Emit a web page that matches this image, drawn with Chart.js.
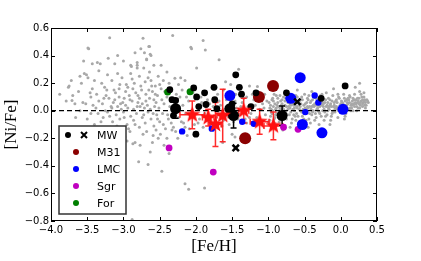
<!DOCTYPE html>
<html>
<head>
<meta charset="utf-8">
<script src="https://cdn.jsdelivr.net/npm/chart.js@4.4.1/dist/chart.umd.min.js"></script>
<style>
  html, body { margin: 0; padding: 0; background: #fff; }
  #wrap { width: 421px; height: 261px; }
</style>
</head>
<body>
<div id="wrap"><canvas id="c" width="421" height="261"></canvas></div>
<script>
// axis ticks
const xTicks = [-4.0, -3.5, -3.0, -2.5, -2.0, -1.5, -1.0, -0.5, 0.0, 0.5];
const yTicks = [-0.8, -0.6, -0.4, -0.2, 0.0, 0.2, 0.4, 0.6];

// literature field stars [Fe/H, Ni/Fe] (grey)
const fieldStars = [
  [-3.19,0.53],[-2.73,0.525],[-3.48,0.45],[-2.76,0.45],[-2.65,0.465],[-3.08,0.40],[-3.21,0.38],[-2.63,0.41],
  [-2.68,0.375],[-3.43,0.34],[-3.36,0.35],[-3.32,0.34],[-3.12,0.34],[-2.81,0.35],[-2.90,0.33],[-3.34,0.29],
  [-3.54,0.27],[-3.49,0.24],[-3.22,0.26],[-3.08,0.27],[-3.02,0.24],[-2.90,0.27],[-2.81,0.31],[-2.72,0.31],
  [-2.64,0.28],[-3.75,0.18],[-3.43,0.16],[-3.26,0.17],[-3.13,0.15],[-2.94,0.17],[-2.85,0.20],[-2.76,0.18],
  [-2.62,0.22],[-3.70,0.11],[-3.79,0.07],[-3.56,0.06],[-3.52,0.05],[-3.45,0.10],[-3.34,0.07],[-3.29,0.05],
  [-3.24,0.11],[-3.20,0.09],[-3.11,0.13],[-3.06,0.10],[-3.01,0.06],[-2.97,0.04],[-2.92,0.11],[-2.88,0.07],
  [-2.83,0.13],[-2.78,0.09],[-2.74,0.05],[-2.69,0.12],[-2.64,0.09],[-2.60,0.14],[-2.55,0.06],[-2.53,0.11],
  [-3.17,0.03],[-3.08,0.03],[-2.81,0.03],[-2.67,0.04],[-2.57,0.03],
  [-2.32,0.545],[-2.64,0.465],[-2.71,0.42],[-2.62,0.40],[-2.68,0.37],[-2.48,0.33],[-2.81,0.33],[-2.89,0.32],
  [-2.07,0.46],[-1.87,0.44],[-1.99,0.31],[-1.68,0.37],[-2.45,0.22],[-2.29,0.235],[-2.24,0.19],
  [-1.90,0.51],[-2.06,0.45],[-1.41,0.30],[-1.59,0.21],[-2.15,0.22],[-2.21,0.24],[-1.52,0.19],[-1.26,0.18],[-1.15,0.175],
  [-2.84,-0.23],[-2.77,-0.25],[-2.63,-0.30],[-2.79,-0.37],[-2.66,-0.39],[-2.47,-0.44],[-2.37,-0.31],[-2.15,-0.53],
  [-2.10,-0.57],[-1.88,-0.56],[-2.88,-0.79],[-2.98,-0.19],[-2.91,-0.15],[-2.73,-0.17],[-2.59,-0.18],[-2.49,-0.17],
  [-2.40,-0.20],[-2.87,-0.24],[-2.31,-0.12],[-1.50,-0.17],[-1.46,-0.19],[-1.30,-0.09],[-1.63,-0.23],
  [-3.76,0.17],[-3.51,0.26],[-3.71,0.075],[-3.49,0.455],
  [-3.35,-0.02],[-3.28,-0.05],[-3.22,-0.01],[-3.15,-0.08],[-3.10,-0.03],[-3.05,-0.06],[-3.00,-0.01],[-2.95,-0.10],
  [-2.90,-0.04],[-2.86,-0.07],[-2.82,-0.02],[-2.78,-0.12],[-2.74,-0.05],[-2.70,-0.09],[-2.66,-0.01],[-2.62,-0.06],
  [-2.58,-0.11],[-2.54,-0.03],[-2.50,-0.08],[-2.46,-0.02],[-2.42,-0.13],[-2.38,-0.06],[-2.34,-0.09],[-3.40,-0.10],
  [-3.30,-0.14],[-3.18,-0.12],[-3.02,-0.16],[-2.93,-0.13],[-2.68,-0.15],[-2.55,-0.14],[-3.50,-0.06],[-3.60,0.00],[-3.45,-0.02],
  [-3.38,0.02],[-3.25,0.00],[-3.14,0.06],[-3.03,0.01],[-2.99,0.09],[-2.86,0.01],[-2.80,0.06],[-2.71,0.02],
  [-2.65,0.15],[-2.58,0.08],[-2.51,0.02],[-2.48,0.16],[-2.44,0.05],[-2.40,0.10],[-2.36,0.03],[-2.30,0.06],
  [-2.26,0.00],[-2.22,0.10],[-2.18,0.04],[-2.14,-0.02],[-2.10,0.07],[-2.06,0.00],[-3.46,0.13],[-3.30,0.20],
  [-3.16,0.22],[-3.05,0.19],[-2.97,0.14],[-2.88,0.23],[-2.78,0.25],[-2.70,0.21],[-2.56,0.18],[-2.52,0.25],
  [-2.40,0.28],[-3.62,0.14],[-3.58,0.20],[-3.67,0.05],[-3.88,0.12],[-3.55,0.36],[-3.00,0.36],[-2.84,0.42],[-2.58,0.33],
  [-2.28,-0.15],[-2.20,-0.08],[-2.15,-0.12],[-2.05,-0.05],[-2.02,-0.10],[-2.25,-0.20],[-2.12,-0.18],
  [-3.42,0.04],[-3.37,0.12],[-3.31,-0.08],[-3.27,0.09],[-3.23,0.15],[-3.19,-0.04],[-3.16,0.02],[-3.12,0.08],
  [-3.09,-0.11],[-3.06,0.16],[-3.04,0.05],[-2.99,-0.05],[-2.96,0.19],[-2.94,0.02],[-2.91,0.08],[-2.87,0.16],
  [-2.84,-0.10],[-2.80,0.11],[-2.77,0.03],[-2.75,0.15],[-2.72,-0.03],[-2.69,0.07],[-2.66,0.24],[-2.63,0.01],
  [-2.61,0.18],[-2.59,-0.02],[-2.56,0.12],[-2.53,-0.06],[-2.50,0.19],[-2.47,0.08],[-2.45,-0.10],[-2.43,0.14],
  [-2.39,-0.03],[-2.37,0.20],[-2.33,-0.14],[-2.27,0.12],[-2.24,-0.05],[-2.19,0.15],[-2.17,-0.09],[-2.13,0.10],
  [-2.09,-0.13],[-2.04,0.13],
  [-3.60,0.25],[-3.66,-0.05],[-3.72,0.22],[-3.40,0.22],[-3.25,-0.18],[-3.10,-0.20],[-2.95,-0.22],[-2.60,-0.23],
  [-2.52,-0.20],[-2.44,-0.25],
  [-1.98,0.02],[-1.95,-0.06],[-1.92,0.06],[-1.88,-0.02],[-1.84,0.08],[-1.80,-0.09],[-1.76,0.03],[-1.72,-0.05],
  [-1.68,0.07],[-1.64,-0.11],[-1.60,0.01],[-1.56,-0.04],[-1.52,0.05],[-1.48,-0.08],[-1.44,0.02],[-1.40,-0.03],
  [-1.36,0.06],[-1.32,-0.06],[-1.28,0.03],[-1.24,-0.02],[-1.20,0.08],[-1.16,-0.05],[-1.12,0.01],[-1.08,0.05],
  [-1.04,-0.03],[-1.90,-0.12],[-1.70,0.12],[-1.55,0.10],[-1.45,0.12],[-1.30,0.10],[-1.22,0.12],[-1.10,0.09],
  [-1.86,0.14],[-1.62,0.15],[-1.05,0.12],[-1.00,-0.08],
  [-1.97,-0.09],[-1.93,0.10],[-1.89,0.04],[-1.85,-0.07],[-1.81,0.05],[-1.77,-0.12],[-1.73,0.09],[-1.69,-0.02],
  [-1.66,0.04],[-1.62,-0.07],[-1.58,0.08],[-1.54,-0.10],[-1.50,0.00],[-1.46,0.07],[-1.42,-0.06],[-1.38,0.03],
  [-1.34,0.09],[-1.26,-0.05],[-1.18,0.04],[-1.14,-0.08],[-1.06,0.02],[-1.02,0.07],
  [-0.98,0.02],[-0.97,-0.04],[-0.95,0.08],[-0.94,0.00],[-0.92,-0.06],[-0.91,0.05],[-0.89,0.11],[-0.88,-0.02],
  [-0.86,0.03],[-0.85,-0.08],[-0.83,0.07],[-0.82,0.01],[-0.80,-0.04],[-0.79,0.10],[-0.77,0.04],[-0.76,-0.01],
  [-0.74,0.13],[-0.73,0.06],[-0.71,-0.03],[-0.70,0.02],[-0.68,0.09],[-0.67,-0.06],[-0.65,0.04],[-0.64,0.00],
  [-0.62,0.11],[-0.61,-0.02],[-0.59,0.06],[-0.58,-0.09],[-0.56,0.03],[-0.55,0.08],[-0.53,-0.04],[-0.52,0.01],
  [-0.50,0.12],[-0.49,0.05],[-0.47,-0.01],[-0.46,0.09],[-0.44,-0.06],[-0.43,0.03],[-0.41,0.07],[-0.40,-0.03],
  [-0.38,0.00],[-0.37,0.10],[-0.35,0.04],[-0.34,-0.05],[-0.32,0.02],[-0.31,0.08],[-0.29,-0.02],[-0.28,0.05],
  [-0.26,0.12],[-0.25,0.00],[-0.23,-0.07],[-0.22,0.06],[-0.20,0.03],[-0.19,-0.03],[-0.17,0.09],[-0.16,0.01],
  [-0.14,0.05],[-0.13,-0.04],[-0.11,0.11],[-0.10,0.03],[-0.08,-0.01],[-0.07,0.07],[-0.05,0.02],[-0.04,-0.05],
  [-0.02,0.09],[-0.01,0.04],[0.01,0.00],[0.02,0.06],[0.04,0.12],[0.05,0.03],[0.07,-0.02],[0.08,0.08],
  [0.10,0.05],[0.11,0.01],[0.13,0.10],[0.14,0.04],[0.16,0.07],[0.17,0.00],[0.19,0.12],[0.20,0.06],
  [0.22,0.03],[0.23,0.09],[0.25,0.05],[0.26,0.14],[0.28,0.07],[0.30,0.03],[0.32,0.10],[0.34,0.06],
  [0.36,0.08],[0.26,0.20],[0.38,0.06],
  [-0.99,0.06],[-0.96,-0.01],[-0.93,0.03],[-0.90,-0.03],[-0.87,0.06],[-0.84,0.02],[-0.81,0.08],[-0.78,-0.05],
  [-0.75,0.03],[-0.72,0.08],[-0.69,-0.01],[-0.66,0.05],[-0.63,-0.04],[-0.60,0.02],[-0.57,0.07],[-0.54,-0.01],
  [-0.51,0.04],[-0.48,-0.07],[-0.45,0.02],[-0.42,0.06],[-0.39,-0.01],[-0.36,0.05],[-0.33,0.01],[-0.30,0.06],
  [-0.27,-0.04],[-0.24,0.03],[-0.21,0.08],[-0.18,0.00],[-0.15,0.04],[-0.12,-0.02],[-0.09,0.06],[-0.06,0.03],
  [-0.03,0.00],[0.00,0.05],[0.03,0.02],[0.06,0.07],[0.09,0.02],[0.12,0.06],[0.15,0.02],[0.18,0.05],
  [0.21,0.08],[0.24,0.02],[0.27,0.04],[0.30,0.08],[0.33,0.04],
  [-0.98,-0.07],[-0.94,0.09],[-0.90,0.01],[-0.86,-0.05],[-0.82,0.04],[-0.78,0.00],[-0.74,-0.03],[-0.70,0.05],
  [-0.66,0.01],[-0.62,-0.07],[-0.58,0.04],[-0.54,0.10],[-0.50,-0.02],[-0.46,0.03],[-0.42,-0.09],[-0.38,0.04],
  [-0.34,0.09],[-0.30,-0.01],[-0.26,0.04],[-0.22,-0.01],[-0.18,0.06],[-0.14,-0.07],[-0.10,0.00],[-0.06,0.08],
  [-0.02,0.01],[0.02,0.03],[0.06,-0.04],[0.10,0.09],[0.14,0.00],[0.18,0.08],[0.22,0.00],[0.26,0.02],
  [0.30,0.05],[0.34,0.02],
  [-0.97,0.04],[-0.95,-0.02],[-0.93,0.07],[-0.91,-0.05],[-0.89,0.02],[-0.87,0.09],[-0.85,0.00],[-0.83,-0.03],
  [-0.81,0.05],[-0.79,0.01],[-0.77,0.07],[-0.75,-0.06],[-0.73,0.01],[-0.71,0.10],[-0.69,0.04],[-0.67,0.07],
  [-0.65,-0.03],[-0.63,0.06],[-0.61,0.03],[-0.59,-0.04],[-0.57,0.01],[-0.55,0.05],[-0.53,0.08],[-0.51,-0.06],
  [-0.49,0.02],[-0.47,0.06],[-0.45,0.08],[-0.43,-0.02],[-0.41,0.01],[-0.39,0.08],[-0.37,0.03],[-0.35,-0.02],
  [-0.33,0.06],[-0.31,0.00],[-0.29,0.03],[-0.27,0.09],[-0.25,0.06],[-0.23,0.01],[-0.21,-0.04],[-0.19,0.04],
  [-0.17,0.02],[-0.15,0.08],[-0.13,0.03],[-0.11,-0.01],[-0.09,0.04],[-0.07,0.01],[-0.05,0.06],[-0.03,0.10],
  [-0.01,0.02],[0.01,0.07],[0.03,0.05],[0.05,0.09],[0.07,0.04],[0.09,0.06],[0.11,0.08],[0.13,0.02],
  [0.15,0.05],[0.17,0.09],[0.19,0.03],[0.21,0.05],[0.23,0.06],[0.25,0.09],[0.27,0.06],[0.29,0.10],
  [0.31,0.06],[0.33,0.08],[0.35,0.04],[0.37,0.07],
  [-0.96,0.01],[-0.88,0.04],[-0.80,0.02],[-0.72,0.03],[-0.64,0.02],[-0.56,0.00],[-0.48,0.01],[-0.40,0.03],
  [-0.32,0.04],[-0.24,0.05],[-0.16,0.03],[-0.08,0.02],[0.00,0.03],[0.08,0.04],[0.16,0.04],[0.24,0.07],[0.32,0.07],
  [-0.92,-0.09],[-0.76,0.09],[-0.68,-0.09],[-0.52,-0.09],[-0.36,-0.07],[-0.28,0.11],[-0.12,0.07],[-0.04,0.12],
  [0.04,-0.01],[0.12,0.11],[0.28,0.12],[-0.60,0.10],[-0.44,0.11],[-0.84,0.11],
  [-0.92,0.12],[-0.60,0.15],[-0.40,0.14],[-0.20,0.13],[-0.70,-0.12],[-0.45,-0.12],[-0.15,-0.10],[0.05,-0.06],
  [-0.80,-0.14],[-0.30,-0.10],[0.20,0.17],[-0.10,0.16],[0.32,0.13]
];

// Milky Way globular clusters
const mwFeH  = [-2.36, -2.33, -2.28, -2.31, -2.03, -1.99, -1.88, -1.96, -1.75, -1.86, -1.74, -1.71, -1.45, -1.40, -1.37, -1.17, -1.24, -2.00, -0.75, -0.27, 0.06, -1.50];
const mwNiFe = [0.152, 0.08, 0.075, -0.035, 0.165, 0.10, 0.13, 0.03, 0.17, 0.045, 0.08, 0.015, 0.26, 0.17, 0.12, 0.13, 0.03, -0.17, 0.13, 0.09, 0.18, 0.05];
const mwBigFeH  = [-2.28, -1.53, -1.48, -0.81];
const mwBigNiFe = [0.015, 0.015, -0.035, -0.035];
const mwBigErr  = [0.07, 0.0, 0.09, 0.07];
const mwCrossFeH  = [-1.45, -0.60];
const mwCrossNiFe = [-0.27, 0.065];

const m31FeH  = [-0.935, -1.13, -1.32];
const m31NiFe = [0.18, 0.10, -0.20];

const lmcBigFeH  = [-0.56, -1.53, -0.69, -0.53, -0.26, 0.03];
const lmcBigNiFe = [0.24, 0.11, 0.09, -0.10, -0.16, 0.01];
const lmcFeH  = [-2.19, -0.36, -0.31, -0.49, -1.36, -1.20, -1.78];
const lmcNiFe = [-0.15, 0.11, 0.06, -0.01, -0.08, -0.095, -0.13];

const sgrFeH  = [-2.37, -1.76, -0.79, -0.59];
const sgrNiFe = [-0.27, -0.445, -0.12, -0.135];

const forFeH  = [-2.39, -2.08];
const forNiFe = [0.135, 0.138];

// this work (red stars)
const starFeH     = [-2.05, -1.83, -1.73, -1.63, -1.34, -1.12, -0.93];
const starNiFe    = [-0.03, -0.05, -0.10, -0.035, 0.0, -0.08, -0.11];
const starFeHErr  = [0.17, 0.08, 0.08, 0.08, 0.07, 0.13, 0.13];
const starNiFeErr = [0.10, 0.06, 0.16, 0.19, 0.09, 0.09, 0.10];

const zip = (xs, ys) => xs.map((x, i) => ({ x: x, y: ys[i] }));

function makeStar(r, color) {
  const c = document.createElement('canvas');
  c.width = c.height = Math.ceil(2 * r + 2);
  const g = c.getContext('2d');
  const cx = c.width / 2, cy = c.height / 2;
  g.beginPath();
  for (let i = 0; i < 10; i++) {
    const rr = i % 2 === 0 ? r : r * 0.42;
    const a = -Math.PI / 2 + i * Math.PI / 5;
    g.lineTo(cx + rr * Math.cos(a), cy + rr * Math.sin(a));
  }
  g.closePath();
  g.fillStyle = color;
  g.fill();
  return c;
}

function fmt(v) {
  const t = Math.abs(v) < 1e-9 ? '0.0' : v.toFixed(1);
  return t.replace('-', '\u2212');
}

function drawErr(ctx, xs, ys, px, py, ex, ey, color, cap) {
  ctx.save();
  ctx.strokeStyle = color;
  ctx.lineWidth = 1.5;
  px.forEach((x, i) => {
    const cx = xs.getPixelForValue(x), cy = ys.getPixelForValue(py[i]);
    ctx.beginPath();
    if (ey[i]) {
      const t = ys.getPixelForValue(py[i] + ey[i]), b = ys.getPixelForValue(py[i] - ey[i]);
      ctx.moveTo(cx, t); ctx.lineTo(cx, b);
      ctx.moveTo(cx - cap, t); ctx.lineTo(cx + cap, t);
      ctx.moveTo(cx - cap, b); ctx.lineTo(cx + cap, b);
    }
    if (ex && ex[i]) {
      const l = xs.getPixelForValue(x - ex[i]), r = xs.getPixelForValue(x + ex[i]);
      ctx.moveTo(l, cy); ctx.lineTo(r, cy);
      ctx.moveTo(l, cy - cap); ctx.lineTo(l, cy + cap);
      ctx.moveTo(r, cy - cap); ctx.lineTo(r, cy + cap);
    }
    ctx.stroke();
  });
  ctx.restore();
}

const extras = {
  id: 'extras',
  afterDatasetDraw(chart, args) {
    if (chart.data.datasets[args.index].label !== 'field') return;
    const xs = chart.scales.x, ys = chart.scales.y, ctx = chart.ctx;
    drawErr(ctx, xs, ys, starFeH, starNiFe, starFeHErr, starNiFeErr, 'rgba(255,20,20,0.9)', 3);
    drawErr(ctx, xs, ys, mwBigFeH, mwBigNiFe, null, mwBigErr, '#000', 3);
  },
  afterDraw(chart) {
    const ctx = chart.ctx, a = chart.chartArea;
    const xs = chart.scales.x, ys = chart.scales.y;
    ctx.save();
    // frame and inward ticks
    ctx.strokeStyle = '#000';
    ctx.lineWidth = 1;
    ctx.strokeRect(a.left + 0.5, a.top + 0.5, a.right - a.left - 1, a.bottom - a.top - 1);
    ctx.beginPath();
    xTicks.forEach(v => {
      const p = Math.round(xs.getPixelForValue(v)) + 0.5;
      ctx.moveTo(p, a.bottom); ctx.lineTo(p, a.bottom - 4);
      ctx.moveTo(p, a.top); ctx.lineTo(p, a.top + 4);
    });
    yTicks.forEach(v => {
      const p = Math.round(ys.getPixelForValue(v)) + 0.5;
      ctx.moveTo(a.left, p); ctx.lineTo(a.left + 4, p);
      ctx.moveTo(a.right, p); ctx.lineTo(a.right - 4, p);
    });
    ctx.stroke();

    // legend box
    const bx = a.left + 8, bw = 67, bh = 88, by = a.bottom - 7 - bh;
    ctx.fillStyle = '#fff';
    ctx.fillRect(bx, by, bw, bh);
    ctx.strokeStyle = '#333';
    ctx.lineWidth = 1.5;
    ctx.strokeRect(bx, by, bw, bh);
    const rows = [
      { label: 'MW', color: '#000' },
      { label: 'M31', color: '#8b0000' },
      { label: 'LMC', color: '#0000ff' },
      { label: 'Sgr', color: '#c000c0' },
      { label: 'For', color: '#007f00' }
    ];
    ctx.font = '11px "DejaVu Sans"';
    ctx.textBaseline = 'middle';
    ctx.textAlign = 'left';
    rows.forEach((r, i) => {
      const yy = by + 9 + i * 17;
      ctx.fillStyle = r.color;
      ctx.beginPath();
      ctx.arc(i === 0 ? bx + 9 : bx + 17, yy, 3, 0, Math.PI * 2);
      ctx.fill();
      if (i === 0) {
        ctx.strokeStyle = '#000';
        ctx.lineWidth = 2;
        ctx.beginPath();
        ctx.moveTo(bx + 22, yy - 3); ctx.lineTo(bx + 28, yy + 3);
        ctx.moveTo(bx + 28, yy - 3); ctx.lineTo(bx + 22, yy + 3);
        ctx.stroke();
      }
      ctx.fillStyle = '#000';
      ctx.fillText(r.label, bx + 38, yy + 1);
    });
    ctx.restore();
  }
};

const starImg = makeStar(8.5, '#ff1010');

new Chart(document.getElementById('c'), {
  type: 'scatter',
  data: {
    datasets: [
      { label: 'this work', data: zip(starFeH, starNiFe), pointStyle: starImg, order: 0 },
      { label: 'MW big', data: zip(mwBigFeH, mwBigNiFe), backgroundColor: '#000', pointRadius: 5.5, borderWidth: 0, order: 1 },
      { label: 'MW', data: zip(mwFeH, mwNiFe), backgroundColor: '#000', pointRadius: 3.4, borderWidth: 0, order: 2 },
      { label: 'MW x', data: zip(mwCrossFeH, mwCrossNiFe), pointStyle: 'crossRot', pointRadius: 4.5, borderColor: '#000', borderWidth: 2.5, order: 2 },
      { label: 'M31', data: zip(m31FeH, m31NiFe), backgroundColor: '#8b0000', pointRadius: 6, borderWidth: 0, order: 3 },
      { label: 'LMC big', data: zip(lmcBigFeH, lmcBigNiFe), backgroundColor: '#0000ff', pointRadius: 5.5, borderWidth: 0, order: 4 },
      { label: 'LMC', data: zip(lmcFeH, lmcNiFe), backgroundColor: '#0000ff', pointRadius: 3.2, borderWidth: 0, order: 4 },
      { label: 'Sgr', data: zip(sgrFeH, sgrNiFe), backgroundColor: '#c000c0', pointRadius: 3.4, borderWidth: 0, order: 5 },
      { label: 'For', data: zip(forFeH, forNiFe), backgroundColor: '#007f00', pointRadius: 3.5, borderWidth: 0, order: 5 },
      { label: 'zero', type: 'line', data: [{ x: -4, y: 0 }, { x: 0.5, y: 0 }], borderColor: '#000', borderWidth: 1.2, borderDash: [5, 3], pointRadius: 0, fill: false, order: 8 },
      { label: 'field', data: fieldStars.map(p => ({ x: p[0], y: p[1] })), backgroundColor: '#a8a8a8', pointRadius: 1.5, borderWidth: 0, order: 9 }
    ]
  },
  options: {
    responsive: false,
    devicePixelRatio: 1,
    animation: false,
    layout: { padding: { top: 28, right: 44, left: 0, bottom: 0 } },
    plugins: { legend: { display: false }, tooltip: { enabled: false } },
    scales: {
      x: {
        type: 'linear', min: -4, max: 0.5,
        afterBuildTicks: s => { s.ticks = xTicks.map(v => ({ value: v })); },
        afterFit: s => { s.height = 40; },
        ticks: { callback: fmt, color: '#000', font: { family: 'DejaVu Sans', size: 10 }, padding: 3, maxRotation: 0, autoSkip: false },
        grid: { display: false, drawTicks: false },
        border: { display: false },
        title: { display: true, text: '[Fe/H]', color: '#000', font: { family: 'Liberation Serif', size: 17 }, padding: { top: 0, bottom: 4 } }
      },
      y: {
        type: 'linear', min: -0.8, max: 0.6,
        afterBuildTicks: s => { s.ticks = yTicks.map(v => ({ value: v })); },
        afterFit: s => { s.width = 51; },
        ticks: { callback: fmt, color: '#000', font: { family: 'DejaVu Sans', size: 10 }, padding: 2, autoSkip: false },
        grid: { display: false, drawTicks: false },
        border: { display: false },
        title: { display: true, text: '[Ni/Fe]', color: '#000', font: { family: 'Liberation Serif', size: 17 }, padding: { top: 1, bottom: 0 } }
      }
    }
  },
  plugins: [extras]
});
</script>
</body>
</html>
